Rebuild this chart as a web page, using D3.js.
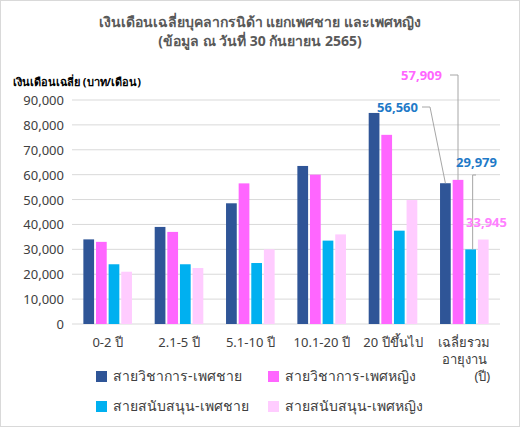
<!DOCTYPE html>
<html><head><meta charset="utf-8">
<script src="https://cdn.jsdelivr.net/npm/d3@7"></script>
<style>body{margin:0;background:#fff}text{font-family:"Noto Sans","DejaVu Sans",sans-serif}</style>
</head><body><svg id="c" width="521" height="428"></svg>
<script>
// data
var groups = ["0-2 ปี", "2.1-5 ปี", "5.1-10 ปี", "10.1-20 ปี", "20 ปีขึ้นไป", "เฉลี่ยรวม"];
var series = ["สายวิชาการ-เพศชาย", "สายวิชาการ-เพศหญิง", "สายสนับสนุน-เพศชาย", "สายสนับสนุน-เพศหญิง"];
var colors = ["#2f5597", "#ff66ff", "#00b0f0", "#ffccff"];
var acadMale = [34000, 39000, 48500, 63500, 84800, 56560];
var acadFemale = [33000, 37000, 56500, 60000, 76000, 57909];
var suppMale = [24000, 24000, 24500, 33500, 37500, 29979];
var suppFemale = [21000, 22500, 30000, 36000, 49800, 33945];
var values = [acadMale, acadFemale, suppMale, suppFemale];
var yTicks = [0, 10000, 20000, 30000, 40000, 50000, 60000, 70000, 80000, 90000];

var svg = d3.select("#c");
svg.append("rect").attr("x", 0.5).attr("y", 0.5).attr("width", 519).attr("height", 426)
    .attr("fill", "#fff").attr("stroke", "#d9d9d9");

var y = d3.scaleLinear().domain([0, 90000]).range([324, 100]);
var x = d3.scaleBand().domain(groups).range([72, 500]);
var xs = d3.scaleBand().domain(d3.range(4)).range([0, x.bandwidth()]).paddingInner(0.15).paddingOuter(0.9);

svg.append("text").attr("x", 260).attr("y", 27).attr("text-anchor", "middle")
    .attr("font-size", 14).attr("font-weight", "bold").attr("fill", "#595959")
    .text("เงินเดือนเฉลี่ยบุคลากรนิด้า แยกเพศชาย และเพศหญิง");
svg.append("text").attr("x", 260).attr("y", 46).attr("text-anchor", "middle")
    .attr("font-size", 14).attr("font-weight", "bold").attr("fill", "#595959")
    .text("(ข้อมูล ณ วันที่ 30 กันยายน 2565)");
svg.append("text").attr("x", 13).attr("y", 86).attr("font-size", 11).attr("font-weight", "bold")
    .text("เงินเดือนเฉลี่ย (บาท/เดือน)");

svg.append("g").selectAll("line").data(yTicks).join("line")
    .attr("x1", 72).attr("x2", 500).attr("y1", d => y(d)).attr("y2", d => y(d))
    .attr("stroke", "#d9d9d9");
svg.append("g").selectAll("text").data(yTicks).join("text")
    .attr("x", 64).attr("y", d => y(d) + 5).attr("text-anchor", "end")
    .attr("font-size", 13).attr("fill", "#404040").text(d3.format(","));

values.forEach(function (vals, si) {
    svg.append("g").selectAll("rect").data(vals).join("rect")
        .attr("x", (d, i) => x(groups[i]) + xs(si)).attr("width", xs.bandwidth())
        .attr("y", d => y(d)).attr("height", d => y(0) - y(d)).attr("fill", colors[si]);
});

svg.append("g").selectAll("text").data(groups).join("text")
    .attr("x", d => x(d) + x.bandwidth() / 2).attr("y", 347).attr("text-anchor", "middle")
    .attr("font-size", 13).attr("fill", "#404040").text(d => d);
svg.append("text").attr("x", x("เฉลี่ยรวม") + x.bandwidth() / 2).attr("y", 364).attr("text-anchor", "middle")
    .attr("font-size", 13).attr("fill", "#404040").text("อายุงาน");
svg.append("text").attr("x", x("เฉลี่ยรวม") + x.bandwidth() / 2 + 18).attr("y", 381).attr("text-anchor", "middle")
    .attr("font-size", 13).attr("fill", "#404040").text("(ปี)");

// callouts for the average group
var last = groups.length - 1;
function barTop(si) { return [x(groups[last]) + xs(si) + xs.bandwidth() / 2, y(values[si][last])]; }
var callouts = [
    {si: 0, tx: 418, ty: 112, color: "#1f7ac8", path: p => [[422, 107], [430, 107], p]},
    {si: 1, tx: 442, ty: 80, color: "#ff66ff", path: p => [[450, 75], [458, 75], [458, p[1]]]},
    {si: 2, tx: 497, ty: 167, color: "#1f7ac8", path: p => [[476, 175], [p[0] + 2, 175], [p[0] + 2, p[1]]]},
    {si: 3, tx: 507, ty: 227, color: "#ff80ff", path: null}
];
callouts.forEach(function (c) {
    var p = barTop(c.si);
    if (c.path) {
        svg.append("path").attr("d", d3.line()(c.path(p))).attr("fill", "none").attr("stroke", "#a6a6a6");
    }
    svg.append("text").attr("x", c.tx).attr("y", c.ty).attr("text-anchor", "end")
        .attr("font-size", 13).attr("font-weight", "bold").attr("fill", c.color)
        .text(d3.format(",")(values[c.si][last]));
});

// legend
var legPos = [[96, 381], [268, 381], [96, 411], [268, 411]];
series.forEach(function (s, i) {
    var g = svg.append("g").attr("transform", "translate(" + legPos[i] + ")");
    g.append("rect").attr("x", 0).attr("y", -10).attr("width", 11).attr("height", 11).attr("fill", colors[i]);
    g.append("text").attr("x", 17).attr("y", 0).attr("font-size", 14).attr("fill", "#404040").text(s);
});
</script></body></html>
